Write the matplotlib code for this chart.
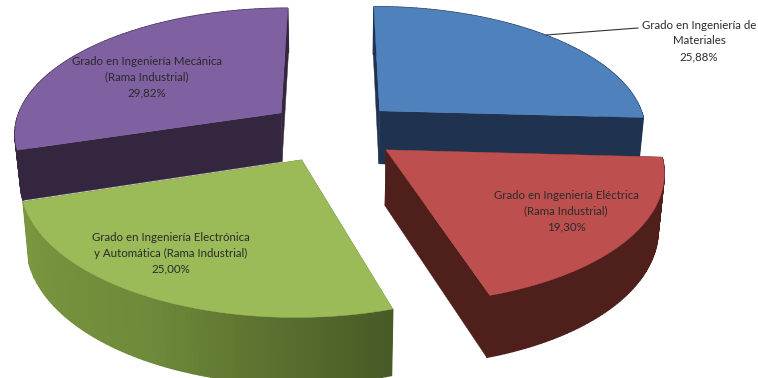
"""Exploded 3D pie - Grados en Ingenieria (Rama Industrial)."""

import numpy as np
import matplotlib
matplotlib.use("Agg")
import matplotlib.pyplot as plt
from matplotlib.colors import LinearSegmentedColormap
from matplotlib.patches import Polygon

# ============================================================
# DATA
# ============================================================
values = [25.88, 19.30, 25.00, 29.82]
value_labels = ["25,88%", "19,30%", "25,00%", "29,82%"]
names = [
    "Grado en Ingeniería de\nMateriales",
    "Grado en Ingeniería Eléctrica\n(Rama Industrial)",
    "Grado en Ingeniería Electrónica\ny Automática (Rama Industrial)",
    "Grado en Ingeniería Mecánica\n(Rama Industrial)",
]

# ============================================================
# STYLE AND LAYOUT
# ============================================================
top_colors = ["#4f81bd", "#bd504e", "#9bbb59", "#7f60a0"]
face_colors = ["#1f3350", "#4f1f1c", "#55692c", "#34263f"]
rim_colors = [
    ["#1f3350", "#1f3350"],
    ["#4f1f1c", "#4f1f1c"],
    ["#485a26", "#6f8a3a", "#7a9740"],
    ["#34263f", "#34263f"],
]
label_xy = [(699, 41), (566, 211), (171, 253), (147, 77)]
depth_scale = [0.98, 1.0, 1.06, 0.9]
explode = [0.24, 0.24, 0.252, 0.25]

CX, CY = 334, 131
RX, RV = 268, 125
DEPTH = 56
PERSP = 0.147
SHRINK = 0.018


def project(x, y, z, depth=DEPTH):
    s = 1.0 / (1.0 + PERSP * y + SHRINK * z)
    return np.column_stack([CX + RX * x * s, CY - RV * y * s + depth * z * s])


fig = plt.figure(figsize=(7.58, 3.78), dpi=100)
ax = fig.add_axes([0, 0, 1, 1])
ax.set_xlim(0, 758)
ax.set_ylim(378, 0)
ax.axis("off")

# ------------------------------------------------------------------
# Slices: back ones first so the front ones cover them
# ------------------------------------------------------------------
edges = np.cumsum([0] + values) / sum(values) * 2 * np.pi
for i in [3, 0, 2, 1]:
    t0, t1 = edges[i], edges[i + 1]
    mid = (t0 + t1) / 2
    ox, oy = explode[i] * np.sin(mid), explode[i] * np.cos(mid)
    d = DEPTH * depth_scale[i]
    th = np.linspace(t0, t1, 80)
    ex, ey = ox + np.sin(th), oy + np.cos(th)
    top_arc = project(ex, ey, 0 * th, d)
    low_arc = project(ex, ey, 0 * th + 1, d)
    apex_top = project(np.array([ox]), np.array([oy]), np.array([0.0]), d)
    apex_low = project(np.array([ox]), np.array([oy]), np.array([1.0]), d)

    # radial cut faces
    for k in [0, -1]:
        pts = np.vstack([apex_top, top_arc[k], low_arc[k], apex_low])
        ax.add_patch(Polygon(pts, fc=face_colors[i], ec=face_colors[i], lw=0.3))

    # outer rim, split in strips for the shading
    cmap = LinearSegmentedColormap.from_list("rim", rim_colors[i])
    for j in range(len(th) - 1):
        pts = np.vstack([top_arc[j], top_arc[j + 1], low_arc[j + 1], low_arc[j]])
        col = cmap(j / (len(th) - 2))
        ax.add_patch(Polygon(pts, fc=col, ec=col, lw=1.0))

    ax.add_patch(Polygon(np.vstack([apex_top, top_arc]), fc=top_colors[i],
                         ec=top_colors[i], lw=0.3))

# ------------------------------------------------------------------
# Labels
# ------------------------------------------------------------------
ax.plot([546, 638], [35, 28], color="#333333", lw=0.8)
for name, val, (lx, ly) in zip(names, value_labels, label_xy):
    ax.text(lx, ly, name + "\n" + val, ha="center", va="center", ma="center",
            family="Lato", fontsize=8.3, color="#2b2b2b", linespacing=1.5)

fig.savefig("out.png", dpi=100)
